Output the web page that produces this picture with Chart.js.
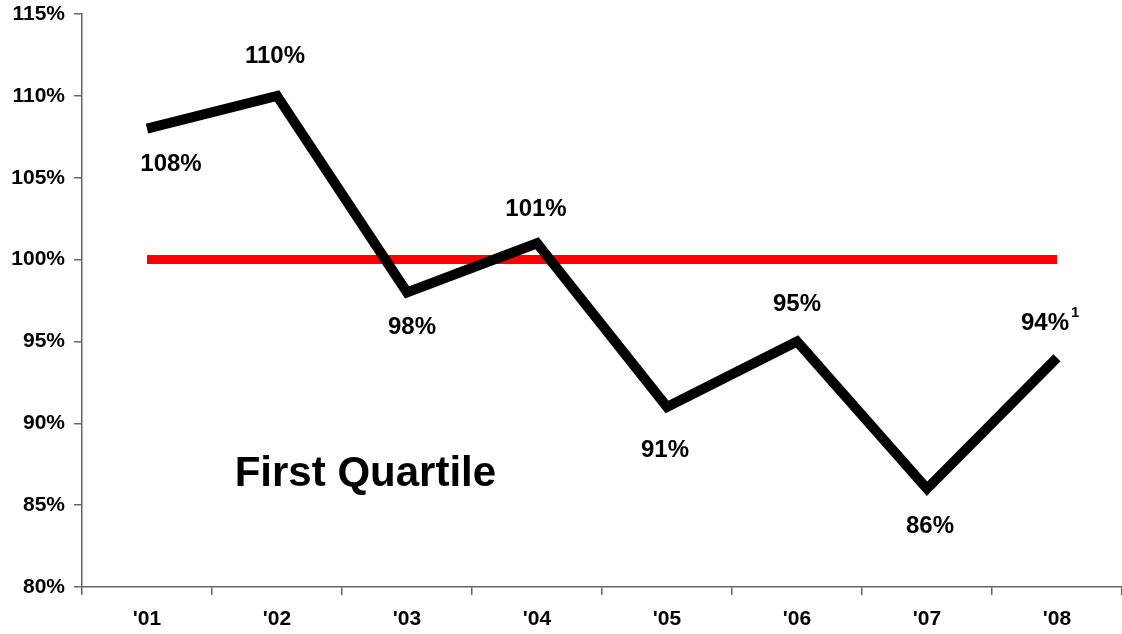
<!DOCTYPE html>
<html lang="en">
<head>
    <meta charset="UTF-8">
    <title>First Quartile</title>
    <script src="https://cdn.jsdelivr.net/npm/chart.js@4.4.0/dist/chart.umd.min.js"></script>
    <style>
        html, body { margin: 0; padding: 0; background: #fff; }
        #chart { display: block; }
    </style>
</head>
<body>
<canvas id="chart" width="1122" height="634"></canvas>
<script>
    // Datos
    const years = ["'01", "'02", "'03", "'04", "'05", "'06", "'07", "'08"];
    const quartileValues = [108, 110, 98, 101, 91, 95, 86, 94];
    const targetValues = [100, 100, 100, 100, 100, 100, 100, 100];
    const footnotes = ['', '', '', '', '', '', '', '1'];
    const yTicks = [80, 85, 90, 95, 100, 105, 110, 115];

    const FONT = 'Liberation Sans, Arial, sans-serif';

    // Etiquetas de valor sobre/bajo cada punto
    const pointLabels = {
        id: 'pointLabels',
        afterDatasetsDraw(chart, args, opts) {
            const ctx = chart.ctx;
            const x = chart.scales.x, y = chart.scales.y;
            ctx.save();
            ctx.fillStyle = '#000';
            ctx.textBaseline = 'middle';
            quartileValues.forEach((v, i) => {
                const p = opts.place[i];
                const px = x.getPixelForValue(i) + p[0];
                const py = y.getPixelForValue(v) + p[1];
                const txt = v + '%';
                ctx.font = 'bold 24px ' + FONT;
                const w = ctx.measureText(txt).width;
                ctx.textAlign = 'left';
                ctx.fillText(txt, px - w / 2, py);
                if (footnotes[i]) {
                    ctx.font = 'bold 15px ' + FONT;
                    ctx.fillText(footnotes[i], px + w / 2 + 2, py - 11);
                }
            });
            // Título dentro del gráfico
            ctx.font = 'bold 42px ' + FONT;
            ctx.textAlign = 'center';
            ctx.fillText('First Quartile', x.getPixelForValue(1.68), y.getPixelForValue(86.9));
            ctx.restore();
        }
    };

    new Chart(document.getElementById('chart').getContext('2d'), {
        type: 'line',
        data: {
            labels: years,
            datasets: [
                {
                    label: 'First Quartile',
                    data: quartileValues,
                    borderColor: '#000',
                    borderWidth: 10,
                    borderJoinStyle: 'miter',
                    borderCapStyle: 'butt',
                    pointRadius: 0,
                    tension: 0,
                    order: 1
                },
                {
                    label: 'Target',
                    data: targetValues,
                    borderColor: '#ff0000',
                    borderWidth: 9,
                    borderCapStyle: 'butt',
                    pointRadius: 0,
                    tension: 0,
                    order: 2
                }
            ]
        },
        options: {
            responsive: false,
            animation: false,
            layout: { padding: { top: 14, right: 0, left: 0, bottom: 0 } },
            plugins: {
                legend: { display: false },
                tooltip: { enabled: false },
                pointLabels: {
                    place: [[24, 36], [-2, -39], [5, 35], [-1, -34], [-2, 43], [0, -37], [3, 38], [-12, -34]]
                }
            },
            scales: {
                x: {
                    offset: true,
                    grid: { offset: true, drawOnChartArea: false, tickLength: 8, color: '#666', lineWidth: 1.5 },
                    border: { color: '#666', width: 1.5 },
                    ticks: { color: '#000', font: { family: FONT, size: 21, weight: 'bold' }, padding: 12, maxRotation: 0 },
                    afterFit(scale) { scale.height = 47; scale.paddingLeft = 0; scale.paddingRight = 0; }
                },
                y: {
                    min: 80,
                    max: 115,
                    afterBuildTicks(scale) { scale.ticks = yTicks.map(v => ({ value: v })); },
                    grid: { drawOnChartArea: false, tickLength: 8, color: '#666', lineWidth: 1.5 },
                    border: { color: '#666', width: 1.5 },
                    ticks: {
                        color: '#000',
                        font: { family: FONT, size: 21, weight: 'bold' },
                        padding: 9,
                        callback: v => v + '%'
                    },
                    afterFit(scale) { scale.width = 82; scale.paddingTop = 0; scale.paddingBottom = 0; }
                }
            }
        },
        plugins: [pointLabels]
    });
</script>
</body>
</html>
